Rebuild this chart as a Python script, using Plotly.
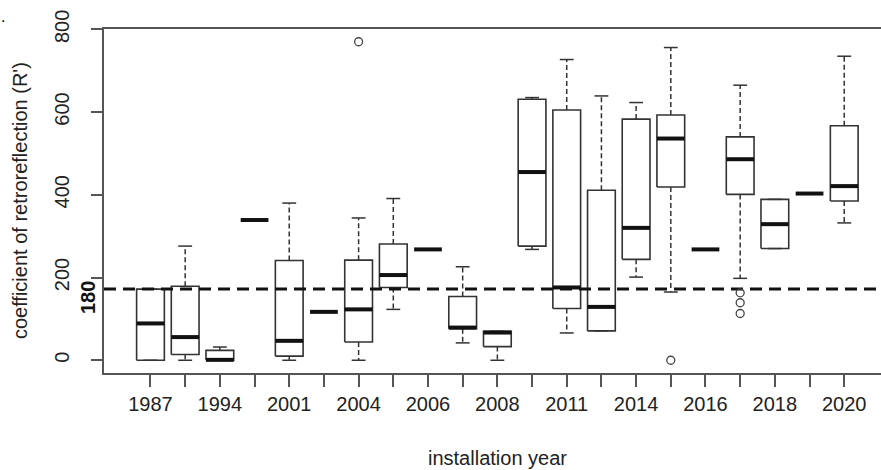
import plotly.graph_objects as go

# ---- data ----
tick_labels = ["1987", "", "1994", "", "2001", "", "2004", "", "2006", "", "2008",
               "", "2011", "", "2014", "", "2016", "", "2018", "", "2020"]
lower_whisker = [0, 0, 0, 339, 0, 117, 0, 123, 268, 42, 0, 268, 66, 71, 201, 165, 268, 198, 270, 403, 332]
q1 =            [0, 14, 0, 339, 10, 117, 44, 176, 268, 76, 33, 276, 125, 71, 244, 419, 268, 401, 270, 403, 385]
median =        [89, 56, 1, 339, 47, 117, 123, 206, 268, 79, 67, 455, 176, 129, 320, 536, 268, 486, 329, 403, 421]
q3 =            [172, 179, 24, 339, 241, 117, 242, 281, 268, 154, 70, 631, 605, 411, 583, 593, 268, 540, 389, 403, 567]
upper_whisker = [172, 276, 32, 339, 380, 117, 344, 391, 268, 226, 70, 635, 727, 639, 623, 756, 268, 665, 389, 403, 735]
outliers = {7: [770], 16: [0], 18: [163, 139, 113]}
reference_value = 172
reference_label = "180"
y_ticks = [0, 200, 400, 600, 800]

BOX_W = 0.8
CAP_W = 0.4
FONT = "Liberation Sans, Arial, sans-serif"
TXT = "#222222"
AX = "#555555"

positions = list(range(1, len(median) + 1))

box_x, box_y = [], []
med_x, med_y = [], []
wh_x, wh_y = [], []
cap_x, cap_y = [], []
for i, p in enumerate(positions):
    a, b = p - BOX_W / 2, p + BOX_W / 2
    med_x += [a, b, None]
    med_y += [median[i], median[i], None]
    if q1[i] == q3[i]:
        continue
    box_x += [a, b, b, a, a, None]
    box_y += [q1[i], q1[i], q3[i], q3[i], q1[i], None]
    wh_x += [p, p, None, p, p, None]
    wh_y += [q3[i], upper_whisker[i], None, q1[i], lower_whisker[i], None]
    c1, c2 = p - CAP_W / 2, p + CAP_W / 2
    cap_x += [c1, c2, None, c1, c2, None]
    cap_y += [upper_whisker[i], upper_whisker[i], None, lower_whisker[i], lower_whisker[i], None]

out_x, out_y = [], []
for p, vals in outliers.items():
    for v in vals:
        out_x.append(p)
        out_y.append(v)

fig = go.Figure()
fig.add_trace(go.Scatter(x=wh_x, y=wh_y, mode="lines",
                         line=dict(color="#333333", width=1.5, dash="5px,3px"), hoverinfo="skip"))
fig.add_trace(go.Scatter(x=cap_x, y=cap_y, mode="lines",
                         line=dict(color="#333333", width=1.5), hoverinfo="skip"))
fig.add_trace(go.Scatter(x=box_x, y=box_y, mode="lines",
                         line=dict(color="#333333", width=1.6), hoverinfo="skip"))
fig.add_trace(go.Scatter(x=[-0.34, 22.06], y=[reference_value, reference_value], mode="lines",
                         line=dict(color="#111111", width=3, dash="12px,7px"), hoverinfo="skip"))
fig.add_trace(go.Scatter(x=med_x, y=med_y, mode="lines",
                         line=dict(color="#111111", width=4), hoverinfo="skip"))
fig.add_trace(go.Scatter(x=out_x, y=out_y, mode="markers",
                         marker=dict(symbol="circle-open", size=8, color="#444444",
                                     line=dict(width=1.3, color="#444444")), hoverinfo="skip"))

fig.update_layout(
    width=881, height=470,
    margin=dict(l=104, r=0, t=29, b=97, autoexpand=False),
    paper_bgcolor="white", plot_bgcolor="white",
    showlegend=False,
    font=dict(family=FONT, size=20, color=TXT),
    xaxis=dict(range=[-0.34, 22.06], tickmode="array", tickvals=positions, ticktext=tick_labels,
               showline=True, mirror=True, linecolor=AX, linewidth=1.5,
               ticks="outside", ticklen=12, tickwidth=1.5, tickcolor=AX, automargin=False,
               showgrid=False, zeroline=False, tickfont=dict(size=20, color=TXT)),
    yaxis=dict(range=[-30.8, 800.8], tickmode="array", tickvals=y_ticks,
               showline=True, linecolor=AX, linewidth=1.5,
               ticks="outside", ticklen=11, tickwidth=1.5, tickcolor=AX, automargin=False,
               tickangle=-90, ticklabelstandoff=14,
               showgrid=False, zeroline=False, tickfont=dict(size=20, color=TXT)),
    annotations=[
        dict(text="installation year", xref="x", x=11, yref="paper", y=-0.248,
             xanchor="center", yanchor="middle", showarrow=False,
             font=dict(family=FONT, size=20, color=TXT)),
        dict(text="coefficient of retroreflection (R')", xref="paper", x=-0.108,
             yref="paper", y=0.5, textangle=-90, xanchor="center", yanchor="middle",
             showarrow=False, font=dict(family=FONT, size=20, color=TXT)),
        dict(text="<b>" + reference_label + "</b>", xref="paper", x=0, yref="y", y=reference_value,
             xshift=-16, yshift=-9, textangle=-90, xanchor="center", yanchor="middle",
             showarrow=False, font=dict(family=FONT, size=20, color="#111111")),
        dict(text=".", xref="paper", x=-0.13, yref="paper", y=1.035,
             xanchor="center", yanchor="middle", showarrow=False,
             font=dict(family=FONT, size=16, color="#000000")),
    ],
)

fig.write_html("out.html", config={"displayModeBar": False},
               post_script="document.body.style.margin='0';document.body.style.overflow='hidden';")
